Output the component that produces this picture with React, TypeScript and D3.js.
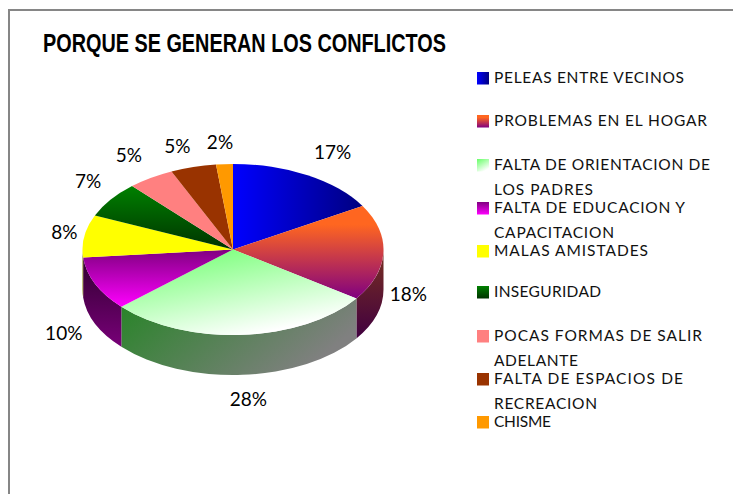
import React from "react";
import * as d3 from "d3";

const title = "PORQUE SE GENERAN LOS CONFLICTOS";
const categories = [
  "PELEAS ENTRE VECINOS",
  "PROBLEMAS EN EL HOGAR",
  "FALTA DE ORIENTACION DE|LOS PADRES",
  "FALTA DE EDUCACION Y|CAPACITACION",
  "MALAS AMISTADES",
  "INSEGURIDAD",
  "POCAS FORMAS DE SALIR|ADELANTE",
  "FALTA DE ESPACIOS DE|RECREACION",
  "CHISME",
];
// slice sizes
const values = [16.5, 18.2, 28.6, 10.2, 8.0, 6.8, 5.0, 4.9, 1.8];
// percentages as printed on the chart
const percentLabels = ["17%", "18%", "28%", "10%", "8%", "7%", "5%", "5%", "2%"];

// gradient: [start, end, x2, y2, first stop offset]
type G = [string, string, number, number, number?];
const topFill: G[] = [
  ["#0000ff", "#000080", 1, 0],
  ["#ff6620", "#800080", 0, 1, 0.2],
  ["#66ff66", "#ffffff", 0.55, 1],
  ["#800080", "#ff00ff", 0, 1],
  ["#ffff00", "#ffff00", 0, 1],
  ["#008000", "#003300", 0, 1],
  ["#ff8080", "#ff8080", 0, 1],
  ["#993300", "#993300", 0, 1],
  ["#ff9900", "#ff9900", 0, 1],
];
const wallFill: G[] = [
  ["#000080", "#000040", 1, 0],
  ["#7a3020", "#400040", 0, 1],
  ["#268426", "#808080", 1, 0.4],
  ["#300030", "#780078", 0, 1],
  ["#808000", "#808000", 0, 1],
  ["#004000", "#001a00", 0, 1],
  ["#804040", "#804040", 0, 1],
  ["#4d1a00", "#4d1a00", 0, 1],
  ["#804d00", "#804d00", 0, 1],
];

// layout
const W = 733, H = 494;
const cx = 233, cy = 249.5, rx = 150.5, ry = 85.5, depth = 40;
const labelOffsets = [
  [25, -24], [25, 41], [6, 64], [-31.5, 49], [-20, -5], [-22.5, -19.5], [-22, -23], [-16, -22], [-4.5, -23],
];
// per category: baselines & right ends of its text lines
const legendLines: [number, number][][] = [
  [[83, 684]],
  [[126, 707]],
  [[170, 710], [195, 593]],
  [[213, 685], [238, 614]],
  [[256, 648]],
  [[297, 601]],
  [[341, 702], [366, 578]],
  [[384, 683], [409, 597]],
  [[427, 551]],
];
const legendX = 494;

const pie = d3.pie<number>().sort(null).value((d) => d);
const slices = pie(values);
const arc = d3.arc<d3.PieArcDatum<number>>().innerRadius(0).outerRadius(rx);
const px = (a: number, dy = 0): [number, number] => [cx + rx * Math.sin(a), cy - ry * Math.cos(a) + dy];

function wallPath(a0: number, a1: number) {
  const s = Math.max(a0, Math.PI / 2);
  const e = Math.min(a1, (3 * Math.PI) / 2);
  if (e <= s) return null;
  const p0 = px(s), p1 = px(e), q1 = px(e, depth), q0 = px(s, depth);
  return `M${p0}A${rx} ${ry} 0 0 1 ${p1}L${q1}A${rx} ${ry} 0 0 0 ${q0}Z`;
}

function Grad({ id, g }: { id: string; g: G }) {
  return (
    <linearGradient id={id} x1={0} y1={0} x2={g[2]} y2={g[3]}>
      <stop offset={g[4] ?? 0} stopColor={g[0]} />
      <stop offset="1" stopColor={g[1]} />
    </linearGradient>
  );
}

export default function App() {
  return (
    <svg width={W} height={H} style={{ position: "absolute", left: 0, top: 0, background: "#fff" }}>
      <defs>
        {topFill.map((g, i) => <Grad key={i} id={`t${i}`} g={g} />)}
        {wallFill.map((g, i) => <Grad key={i} id={`w${i}`} g={g} />)}
      </defs>
      <path d={`M9 ${H}V10H${W}`} fill="none" stroke="#868686" strokeWidth={2} />
      <text x={43} y={52} textLength={403} lengthAdjust="spacingAndGlyphs"
        fontFamily="Liberation Sans" fontWeight="bold" fontSize={25} fill="#000">{title}</text>

      {slices.map((s, i) => {
        const d = wallPath(s.startAngle, s.endAngle);
        return d ? <path key={i} d={d} fill={`url(#w${i})`} /> : null;
      })}
      <g transform={`translate(${cx},${cy}) scale(1,${ry / rx})`}>
        {slices.map((s, i) => <path key={i} d={arc(s) ?? ""} fill={`url(#t${i})`} />)}
      </g>

      {slices.map((s, i) => {
        const [x, y] = px((s.startAngle + s.endAngle) / 2);
        return (
          <text key={i} x={x + labelOffsets[i][0]} y={y + labelOffsets[i][1]} textAnchor="middle"
            dominantBaseline="central" fontFamily="Lato" fontSize={19} fill="#000">
            {percentLabels[i]}
          </text>
        );
      })}

      {categories.map((c, i) => {
        const lines = c.split("|");
        const first = legendLines[i][0][0];
        return (
          <g key={i}>
            <rect x={477} y={first - 11} width={12} height={12.5} fill={`url(#t${i})`} />
            {lines.map((l, j) => (
              <text key={j} x={legendX} y={legendLines[i][j][0]} textLength={legendLines[i][j][1] - legendX}
                lengthAdjust="spacing" fontFamily="Lato" fontSize={15.5} fill="#111">{l}</text>
            ))}
          </g>
        );
      })}
    </svg>
  );
}
